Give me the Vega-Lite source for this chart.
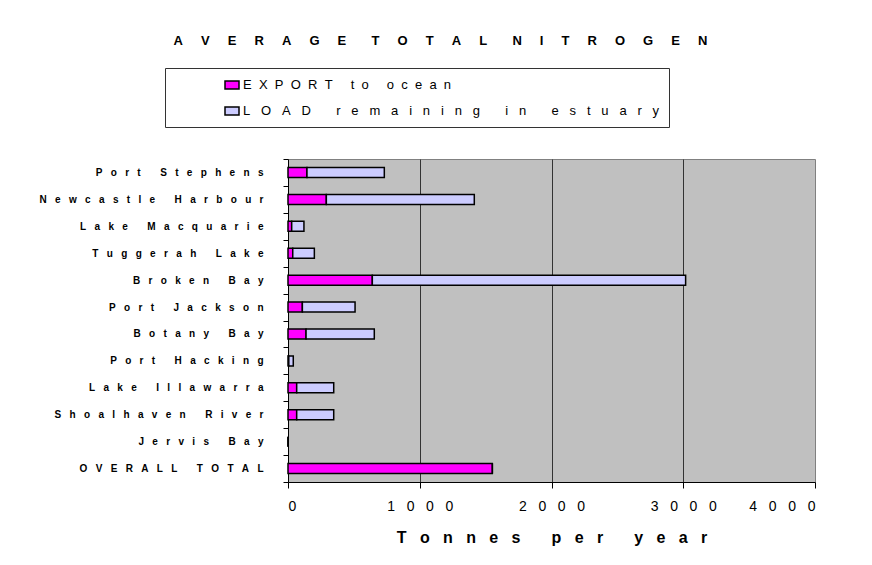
{
  "$schema": "https://vega.github.io/schema/vega-lite/v6.json",
  "width": 527,
  "height": 323,
  "autosize": {"type": "none"},
  "padding": {"left": 288, "top": 159, "right": 57, "bottom": 83},
  "background": "white",
  "title": {
    "text": "A\u00a0\u00a0\u00a0\u00a0\u00a0V\u00a0\u00a0\u00a0\u00a0\u00a0E\u00a0\u00a0\u00a0\u00a0\u00a0R\u00a0\u00a0\u00a0\u00a0\u00a0A\u00a0\u00a0\u00a0\u00a0\u00a0G\u00a0\u00a0\u00a0\u00a0\u00a0E\u00a0\u00a0\u00a0\u00a0\u00a0\u00a0\u00a0T\u00a0\u00a0\u00a0\u00a0\u00a0O\u00a0\u00a0\u00a0\u00a0\u00a0T\u00a0\u00a0\u00a0\u00a0\u00a0A\u00a0\u00a0\u00a0\u00a0\u00a0L\u00a0\u00a0\u00a0\u00a0\u00a0\u00a0\u00a0N\u00a0\u00a0\u00a0\u00a0\u00a0I\u00a0\u00a0\u00a0\u00a0\u00a0T\u00a0\u00a0\u00a0\u00a0\u00a0R\u00a0\u00a0\u00a0\u00a0\u00a0O\u00a0\u00a0\u00a0\u00a0\u00a0G\u00a0\u00a0\u00a0\u00a0\u00a0E\u00a0\u00a0\u00a0\u00a0\u00a0N",
    "anchor": "middle",
    "frame": "group",
    "dx": -111,
    "dy": -16,
    "font": "Liberation Sans",
    "fontSize": 13,
    "fontWeight": "bold",
    "color": "black"
  },
  "data": {
    "values": [
      {"estuary": "Port Stephens", "series": "EXPORT to ocean", "tonnes": 144},
      {"estuary": "Port Stephens", "series": "LOAD remaining in estuary", "tonnes": 587},
      {"estuary": "Newcastle Harbour", "series": "EXPORT to ocean", "tonnes": 291},
      {"estuary": "Newcastle Harbour", "series": "LOAD remaining in estuary", "tonnes": 1123},
      {"estuary": "Lake Macquarie", "series": "EXPORT to ocean", "tonnes": 28},
      {"estuary": "Lake Macquarie", "series": "LOAD remaining in estuary", "tonnes": 93},
      {"estuary": "Tuggerah Lake", "series": "EXPORT to ocean", "tonnes": 36},
      {"estuary": "Tuggerah Lake", "series": "LOAD remaining in estuary", "tonnes": 164},
      {"estuary": "Broken Bay", "series": "EXPORT to ocean", "tonnes": 640},
      {"estuary": "Broken Bay", "series": "LOAD remaining in estuary", "tonnes": 2378},
      {"estuary": "Port Jackson", "series": "EXPORT to ocean", "tonnes": 109},
      {"estuary": "Port Jackson", "series": "LOAD remaining in estuary", "tonnes": 400},
      {"estuary": "Botany Bay", "series": "EXPORT to ocean", "tonnes": 137},
      {"estuary": "Botany Bay", "series": "LOAD remaining in estuary", "tonnes": 518},
      {"estuary": "Port Hacking", "series": "EXPORT to ocean", "tonnes": 6},
      {"estuary": "Port Hacking", "series": "LOAD remaining in estuary", "tonnes": 34},
      {"estuary": "Lake Illawarra", "series": "EXPORT to ocean", "tonnes": 66},
      {"estuary": "Lake Illawarra", "series": "LOAD remaining in estuary", "tonnes": 281},
      {"estuary": "Shoalhaven River", "series": "EXPORT to ocean", "tonnes": 66},
      {"estuary": "Shoalhaven River", "series": "LOAD remaining in estuary", "tonnes": 281},
      {"estuary": "Jervis Bay", "series": "EXPORT to ocean", "tonnes": 0},
      {"estuary": "Jervis Bay", "series": "LOAD remaining in estuary", "tonnes": 0},
      {"estuary": "OVERALL TOTAL", "series": "EXPORT to ocean", "tonnes": 1551},
      {"estuary": "OVERALL TOTAL", "series": "LOAD remaining in estuary", "tonnes": 0}
    ]
  },
  "mark": {"type": "bar", "size": 10, "stroke": "black", "strokeWidth": 1.5},
  "encoding": {
    "y": {
      "field": "estuary",
      "type": "nominal",
      "sort": ["Port Stephens", "Newcastle Harbour", "Lake Macquarie", "Tuggerah Lake", "Broken Bay", "Port Jackson", "Botany Bay", "Port Hacking", "Lake Illawarra", "Shoalhaven River", "Jervis Bay", "OVERALL TOTAL"],
      "scale": {"paddingInner": 0, "paddingOuter": 0},
      "axis": {
        "title": null,
        "tickBand": "extent",
        "tickSize": 5,
        "tickColor": "black",
        "domainColor": "black",
        "labelFont": "Liberation Sans",
        "labelFontSize": 10,
        "labelFontWeight": "bold",
        "labelColor": "black",
        "labelLimit": 400,
        "labelPadding": 20,
        "labelExpr": "join(split(datum.label, ''), '\u00a0\u00a0\u00a0')"
      }
    },
    "x": {
      "field": "tonnes",
      "type": "quantitative",
      "stack": "zero",
      "scale": {"domain": [0, 4000], "nice": false},
      "axis": {
        "title": "T\u00a0\u00a0\u00a0o\u00a0\u00a0\u00a0n\u00a0\u00a0\u00a0n\u00a0\u00a0\u00a0e\u00a0\u00a0\u00a0s\u00a0\u00a0\u00a0 \u00a0\u00a0\u00a0p\u00a0\u00a0\u00a0e\u00a0\u00a0\u00a0r\u00a0\u00a0\u00a0 \u00a0\u00a0\u00a0y\u00a0\u00a0\u00a0e\u00a0\u00a0\u00a0a\u00a0\u00a0\u00a0r",
        "titleFont": "Liberation Sans",
        "titleFontSize": 16,
        "titleFontWeight": "bold",
        "titleColor": "black",
        "titlePadding": 16,
        "values": [0, 1000, 2000, 3000, 4000],
        "format": "d",
        "labelExpr": "join(split(datum.label, ''), '\u00a0\u00a0\u00a0')",
        "labelFont": "Liberation Sans",
        "labelFontSize": 14,
        "labelColor": "black",
        "labelPadding": 11,
        "tickSize": 6,
        "tickColor": "black",
        "domainColor": "black",
        "grid": true,
        "gridColor": {"condition": {"test": "datum.value == 0 || datum.value == 4000", "value": "transparent"}, "value": "#333333"},
        "gridWidth": 1
      }
    },
    "color": {
      "field": "series",
      "type": "nominal",
      "scale": {"domain": ["EXPORT to ocean", "LOAD remaining in estuary"], "range": ["#FF00FF", "#CCCCFF"]},
      "legend": {
        "orient": "none",
        "legendX": -123,
        "legendY": -91,
        "title": null,
        "direction": "vertical",
        "strokeColor": "#333333",
        "fillColor": "white",
        "padding": 9,
        "symbolType": "M-1,-0.57H1V0.57H-1Z",
        "symbolSize": 196,
        "symbolStrokeColor": "black",
        "symbolStrokeWidth": 1.5,
        "symbolOffset": 50,
        "labelOffset": 3,
        "labelFont": "Liberation Sans",
        "labelFontSize": 13,
        "labelColor": "black",
        "labelLimit": 600,
        "rowPadding": 11,
        "labelExpr": "join(split(datum.label, ''), indexof(datum.label, 'LOAD') == 0 ? '\u00a0\u00a0\u00a0' : '\u00a0\u00a0')"
      }
    },
    "order": {"field": "series", "sort": "ascending"}
  },
  "config": {
    "view": {"fill": "#C0C0C0", "stroke": "#808080"},
    "font": "Liberation Sans"
  }
}
